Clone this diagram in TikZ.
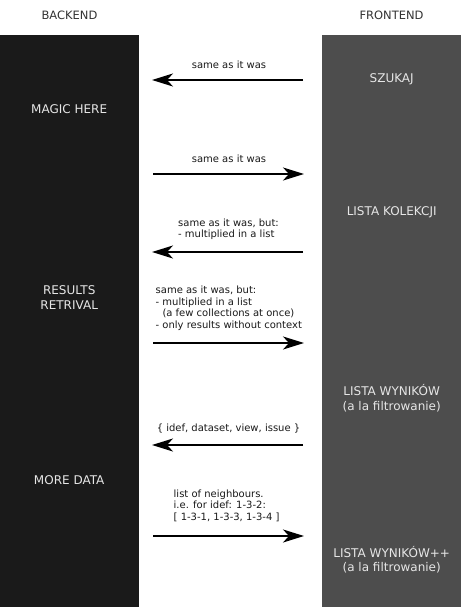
\documentclass[tikz,border=0pt]{standalone}
\usepackage{fontspec}
\setmainfont{DejaVu Sans}
\usetikzlibrary{arrows.meta}
\definecolor{backc}{HTML}{1A1A1A}
\definecolor{frontc}{HTML}{4D4D4D}
\definecolor{hdrc}{HTML}{333333}
\definecolor{coltext}{HTML}{E6E6E6}
\definecolor{labc}{HTML}{1A1A1A}
\begin{document}
\begin{tikzpicture}[x=1pt,y=-1pt,
  column/.style={fill=#1, draw=none, inner sep=0pt, minimum width=139pt, minimum height=572pt, anchor=north west},
  header/.style={text=hdrc, font=\fontsize{11.5}{14}\selectfont, inner sep=0pt},
  coltxt/.style={text=coltext, font=\fontsize{12}{14.5}\selectfont, align=center, inner sep=0pt, anchor=base},
  lab/.style={text=labc, font=\fontsize{10}{11.7}\selectfont, inner sep=0pt},
  arr/.style={line width=2pt, draw=black, -{Stealth[length=21pt,width=13pt,inset=6pt]}}
]
\useasboundingbox (0,0) rectangle (461,607);
\fill[white] (0,0) rectangle (461,607);
\node[column=backc] (back) at (0,35) {};
\node[column=frontc] (front) at (322,35) {};

\node[header] (hb) at (69.5,15.8) {BACKEND};
\node[header] (hf) at (391.5,15.8) {FRONTEND};

% frontend texts (anchor = baseline of last line)
\node[coltxt] (szukaj) at (391.7,83) {SZUKAJ};
\node[coltxt] (kolekcji) at (391.7,215.7) {LISTA KOLEKCJI};
\node[coltxt] (wyniki) at (391.7,410.3) {LISTA WYNIKÓW\\(a la filtrowanie)};
\node[coltxt] (wynikipp) at (391.7,571.5) {LISTA WYNIKÓW++\\(a la filtrowanie)};

% backend texts
\node[coltxt] (magic) at (69.2,113.3) {MAGIC HERE};
\node[coltxt] (results) at (69.2,309) {RESULTS\\RETRIVAL};
\node[coltxt] (more) at (69.2,484) {MORE DATA};

% arrow end points
\coordinate (a1s) at (303,80);  \coordinate (a1e) at (152,80);
\coordinate (a2s) at (153,174); \coordinate (a2e) at (304,174);
\coordinate (a3s) at (303,252); \coordinate (a3e) at (152,252);
\coordinate (a4s) at (153,343); \coordinate (a4e) at (304,343);
\coordinate (a5s) at (303,445); \coordinate (a5e) at (152,445);
\coordinate (a6s) at (153,536); \coordinate (a6e) at (304,536);

\draw[arr] (a1s) -- (a1e);
\draw[arr] (a2s) -- (a2e);
\draw[arr] (a3s) -- (a3e);
\draw[arr] (a4s) -- (a4e);
\draw[arr] (a5s) -- (a5e);
\draw[arr] (a6s) -- (a6e);

% labels (multi-line: anchor = baseline of last line)
\node[lab, anchor=base] (l1) at (229,69) {same as it was};
\node[lab, anchor=base] (l2) at (229,162) {same as it was};
\node[lab, anchor=base west, align=left] (l3) at (178,237.8) {same as it was, but:\\- multiplied in a list};
\node[lab, anchor=base west, align=left] (l4) at (155.5,328.5) {same as it was, but:\\- multiplied in a list\\\hspace*{6.8pt}(a few collections at once)\\- only results without context};
\node[lab, anchor=base] (l5) at (228.5,431.5) {\{ idef, dataset, view, issue \}};
\node[lab, anchor=base west, align=left] (l6) at (173.5,520.5) {list of neighbours.\\i.e. for idef: 1-3-2:\\{[} 1-3-1, 1-3-3, 1-3-4 {]}};
\end{tikzpicture}
\end{document}
